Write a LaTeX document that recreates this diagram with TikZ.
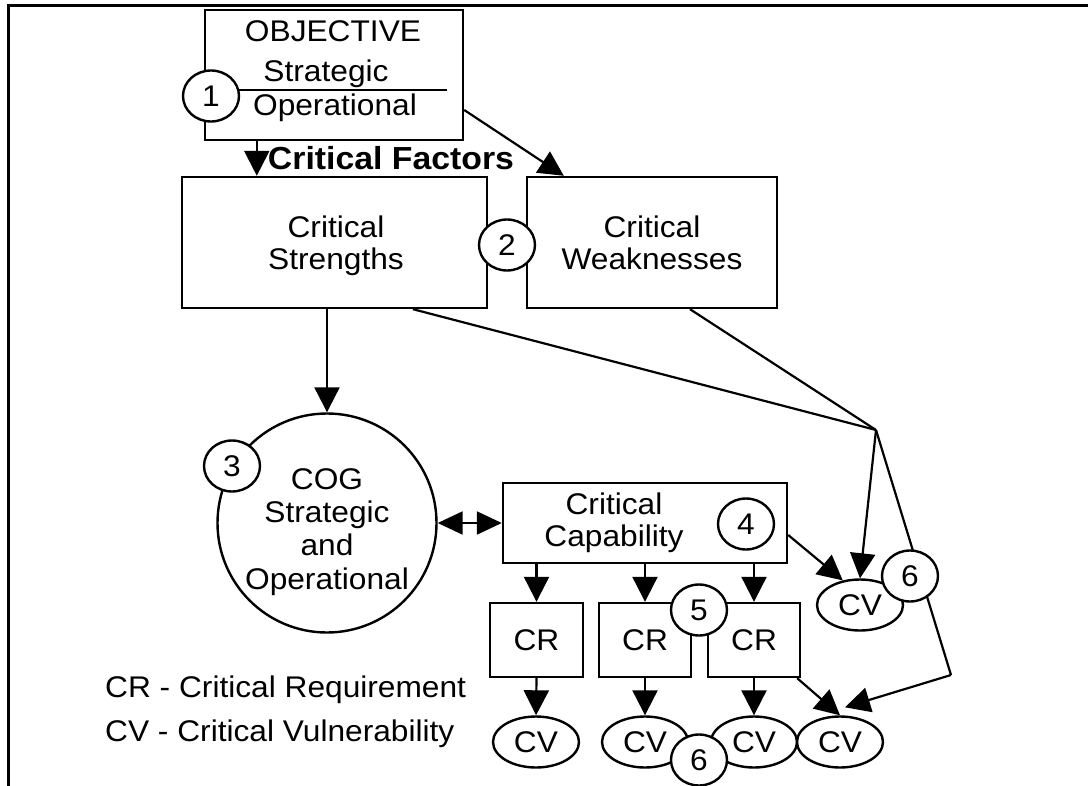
\documentclass[tikz,border=0pt]{standalone}
\usepackage{fontspec}
\setmainfont{Liberation Sans}[FakeStretch=1.06]
\usetikzlibrary{arrows.meta,shapes.geometric}

\begin{document}
\begin{tikzpicture}[x=1bp,y=-1bp,
  every node/.style={font=\fontsize{30}{34}\selectfont},
  box/.style={draw,line width=2.4bp,inner sep=0pt},
  num/.style={ellipse,draw,fill=white,line width=2.4bp,minimum width=56bp,minimum height=51bp,inner sep=0pt},
  cvnode/.style={ellipse,draw,fill=white,line width=2.4bp,minimum width=86bp,minimum height=51bp,inner sep=0pt},
  lbl/.style={anchor=base,inner sep=0pt},
  link/.style={line width=2.2bp},
  arr/.style={line width=2.2bp,-{Triangle[length=25bp,width=25bp]}},
  darr/.style={line width=2.2bp,{Triangle[length=25bp,width=23bp]}-{Triangle[length=25bp,width=23bp]}}]
\useasboundingbox (0,0) rectangle (1088,786);

% page frame (top and left edges)
\draw[line width=3bp] (1088,5.5) -- (8.5,5.5) -- (8.5,786);

% objective box
\node[box,minimum width=258bp,minimum height=130bp] (obj) at (334,75) {};
\node[lbl] (objT) at (333,42) {OBJECTIVE};
\node[lbl] (objS) at (326,82) {Strategic};
\node[lbl] (objO) at (335,115) {Operational};
\draw[link] (236,90) -- (447,90);

\node[font=\bfseries\fontsize{32}{34}\selectfont,anchor=base,inner sep=0pt] (cf) at (391,169) {Critical Factors};

% critical strengths / weaknesses
\node[box,minimum width=305bp,minimum height=131bp] (str) at (334.5,242.5) {};
\node[lbl] (strA) at (336,237) {Critical};
\node[lbl] (strB) at (336,269) {Strengths};
\node[box,minimum width=250bp,minimum height=131bp] (wk) at (652,242.5) {};
\node[lbl] (wkA) at (652,237) {Critical};
\node[lbl] (wkB) at (652,269) {Weaknesses};

% centre of gravity
\node[circle,draw,line width=2.4bp,minimum size=219bp,inner sep=0pt] (cog) at (327,523) {};
\node[lbl] (cogA) at (327,489) {COG};
\node[lbl] (cogB) at (327,522) {Strategic};
\node[lbl] (cogC) at (327,555) {and};
\node[lbl] (cogD) at (327,589) {Operational};

% critical capability
\node[box,minimum width=284bp,minimum height=80bp] (cap) at (645,523) {};
\node[lbl] (capA) at (614,514) {Critical};
\node[lbl] (capB) at (614,546) {Capability};

% critical requirements
\node[box,minimum width=93bp,minimum height=74bp] (cr1) at (536.5,640) {CR};
\node[box,minimum width=92bp,minimum height=74bp] (cr2) at (645,640) {CR};
\node[box,minimum width=92bp,minimum height=74bp] (cr3) at (754,640) {CR};

% critical vulnerabilities
\node[cvnode] (cv1) at (536,742) {CV};
\node[cvnode] (cv2) at (645,742) {CV};
\node[cvnode] (cv3) at (754,742) {CV};
\node[cvnode] (cv4) at (840,742) {CV};
\node[cvnode] (cvr) at (860,605) {CV};

% junction and bend points of the long links
\coordinate (j) at (876,430);
\coordinate (b) at (951,675);

% connectors
\draw[arr] ([xshift=53bp]obj.south west) -- ([xshift=53bp]obj.south west |- str.north);
\draw[arr] ([yshift=-35bp]obj.east) -- ([xshift=38bp]wk.north west);
\draw[arr] (cog.north |- str.south) -- (cog.north);
\draw[darr] (cog.east) -- (cap.west);
\draw[arr] (cap.south -| cr1.north) -- (cr1.north);
\draw[arr] (cap.south -| cr2.north) -- (cr2.north);
\draw[arr] (cap.south -| cr3.north) -- (cr3.north);
\draw[arr] (cr1.south) -- (cv1.north);
\draw[arr] (cr2.south) -- (cv2.north);
\draw[arr] (cr3.south) -- (cv3.north);
\draw[arr] ([xshift=-4bp]cr3.south east) -- (cv4.north);
\draw[arr] ([yshift=-12bp]cap.east) -- (cvr.125);
\draw[link] ([xshift=78.5bp]str.south) -- (j);
\draw[link] ([xshift=38bp]wk.south) -- (j);
\draw[arr] (j) -- (cvr.north);
\draw[link] (j) -- (b);
\draw[arr] (b) -- ([xshift=5bp,yshift=8bp]cv4.north);

% numbered markers
\node[num] (n1) at (211,96) {1};
\node[num] (n2) at (507,245) {2};
\node[num] (n3) at (232,466) {3};
\node[num] (n4) at (746,524) {4};
\node[num] (n5) at (699,610) {5};
\node[num] (n6a) at (699,760) {6};
\node[num] (n6b) at (910,576) {6};

% legend
\node[anchor=base west,inner sep=0pt] (legR) at (105,697) {CR - Critical Requirement};
\node[anchor=base west,inner sep=0pt] (legV) at (105,741) {CV - Critical Vulnerability};
\end{tikzpicture}
\end{document}
